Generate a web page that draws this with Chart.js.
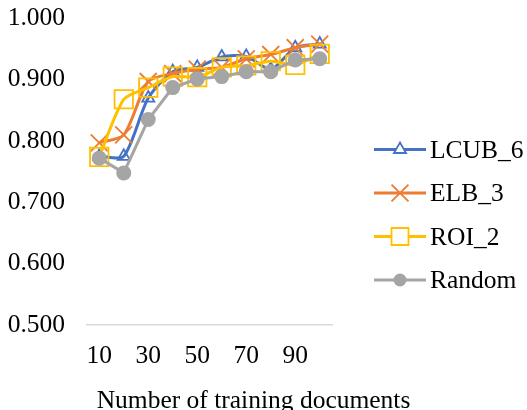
<!DOCTYPE html>
<html>
<head>
<meta charset="utf-8">
<script src="https://cdn.jsdelivr.net/npm/chart.js@4/dist/chart.umd.min.js"></script>
<style>
html,body{margin:0;padding:0;background:#fff;}
#wrap{width:527px;height:410px;}
</style>
</head>
<body>
<div id="wrap"><canvas id="c" width="527" height="410"></canvas></div>
<script>
const categories = [10, 20, 30, 40, 50, 60, 70, 80, 90, 100];
const lcub6  = [0.775, 0.775, 0.870, 0.913, 0.920, 0.937, 0.938, 0.917, 0.952, 0.958];
const elb3   = [0.797, 0.810, 0.897, 0.910, 0.917, 0.920, 0.934, 0.941, 0.952, 0.958];
const roi2   = [0.774, 0.868, 0.887, 0.905, 0.904, 0.920, 0.923, 0.930, 0.924, 0.942];
const random = [0.772, 0.748, 0.835, 0.887, 0.901, 0.905, 0.913, 0.913, 0.932, 0.934];
const yTicks = [0.5, 0.6, 0.7, 0.8, 0.9, 1.0];
const xTitle = 'Number of training documents';

const FONT = "'Liberation Serif', 'Times New Roman', serif";
const FS = 25.5;

const seriesDefs = [
  {label: 'LCUB_6', data: lcub6, color: '#4472C4', style: 'triangle', radius: 7, fill: false, tension: 0.25, order: 4},
  {label: 'ELB_3', data: elb3, color: '#ED7D31', style: 'crossRot', radius: 12, fill: false, tension: 0.25, order: 3},
  {label: 'ROI_2', data: roi2, color: '#FFC000', style: 'rect', radius: 13, fill: false, tension: 0.25, order: 2},
  {label: 'Random', data: random, color: '#A5A5A5', style: 'circle', radius: 7.5, fill: true, tension: 0, order: 1}
];

const datasets = seriesDefs.map(s => ({
  label: s.label,
  data: s.data,
  borderColor: s.color,
  backgroundColor: s.color,
  borderWidth: 3,
  pointStyle: s.style,
  pointRadius: s.radius,
  pointBorderWidth: s.fill ? 0 : 1.8,
  pointBorderColor: s.color,
  pointBackgroundColor: s.fill ? s.color : 'rgba(0,0,0,0)',
  tension: s.tension,
  order: s.order,
  fill: false
}));

function drawMarker(ctx, style, x, y, r, color, fill) {
  ctx.save();
  ctx.strokeStyle = color;
  ctx.fillStyle = color;
  ctx.lineWidth = 1.8;
  ctx.beginPath();
  if (style === 'triangle') {
    ctx.moveTo(x, y - r);
    ctx.lineTo(x + r * Math.sqrt(3) / 2, y + r / 2);
    ctx.lineTo(x - r * Math.sqrt(3) / 2, y + r / 2);
    ctx.closePath();
    ctx.fillStyle = '#fff';
    ctx.fill();
    ctx.stroke();
  } else if (style === 'crossRot') {
    const d = r * Math.SQRT1_2;
    ctx.moveTo(x - d, y - d); ctx.lineTo(x + d, y + d);
    ctx.moveTo(x + d, y - d); ctx.lineTo(x - d, y + d);
    ctx.stroke();
  } else if (style === 'rect') {
    const s = r * Math.SQRT1_2;
    ctx.rect(x - s, y - s, 2 * s, 2 * s);
    ctx.fillStyle = '#fff';
    ctx.fill();
    ctx.stroke();
  } else {
    ctx.arc(x, y, r, 0, Math.PI * 2);
    ctx.fill();
  }
  ctx.restore();
}

const extrasPlugin = {
  id: 'extras',
  afterDraw(chart) {
    const ctx = chart.ctx;
    ctx.save();
    const lx0 = 374, lx1 = 426, ly0 = 149.5, dy = 43.5;
    seriesDefs.forEach((s, i) => {
      const y = ly0 + i * dy;
      ctx.strokeStyle = s.color;
      ctx.lineWidth = 3;
      ctx.beginPath();
      ctx.moveTo(lx0, y); ctx.lineTo(lx1, y);
      ctx.stroke();
      const lr = s.style === 'rect' ? 12 : (s.style === 'circle' ? 6.5 : (s.style === 'crossRot' ? 12 : 7));
      drawMarker(ctx, s.style, (lx0 + lx1) / 2, y, lr, s.color, s.fill);
      ctx.fillStyle = '#000';
      ctx.font = FS + 'px ' + FONT;
      ctx.textAlign = 'left';
      ctx.textBaseline = 'alphabetic';
      ctx.fillText(s.label, 430, y + 8);
    });
    ctx.fillStyle = '#000';
    ctx.font = FS + 'px ' + FONT;
    ctx.textAlign = 'center';
    ctx.textBaseline = 'alphabetic';
    ctx.fillText(xTitle, 253.5, 407.5);
    ctx.restore();
  }
};

new Chart(document.getElementById('c'), {
  type: 'line',
  data: {labels: categories, datasets: datasets},
  options: {
    responsive: false,
    devicePixelRatio: 1,
    animation: false,
    layout: {padding: {left: 0, right: 195, top: 18.3, bottom: 0}},
    plugins: {legend: {display: false}, tooltip: {enabled: false}},
    scales: {
      x: {
        type: 'category',
        offset: true,
        grid: {display: false, drawTicks: false},
        border: {display: true, color: '#D9D9D9', width: 1.5},
        ticks: {
          autoSkip: false,
          maxRotation: 0,
          padding: 16,
          color: '#000',
          font: {family: FONT, size: FS},
          callback: function(v, i) { return i % 2 === 0 ? String(categories[i]) : ''; }
        },
        afterFit: function(scale) {
          scale.height = 85;
          scale.paddingLeft = 0; scale.paddingRight = 0;
          scale.paddingTop = 0; scale.paddingBottom = 0;
        }
      },
      y: {
        min: 0.5,
        max: 1.0,
        grid: {display: false, drawTicks: false},
        border: {display: false},
        afterBuildTicks: function(scale) { scale.ticks = yTicks.map(v => ({value: v})); },
        ticks: {
          padding: 22,
          color: '#000',
          font: {family: FONT, size: FS},
          callback: function(v) { return Number(v).toFixed(3); }
        },
        afterFit: function(scale) {
          scale.width = 87;
          scale.paddingTop = 0; scale.paddingBottom = 0;
          scale.paddingLeft = 0; scale.paddingRight = 0;
        }
      }
    }
  },
  plugins: [extrasPlugin]
});
</script>
</body>
</html>
